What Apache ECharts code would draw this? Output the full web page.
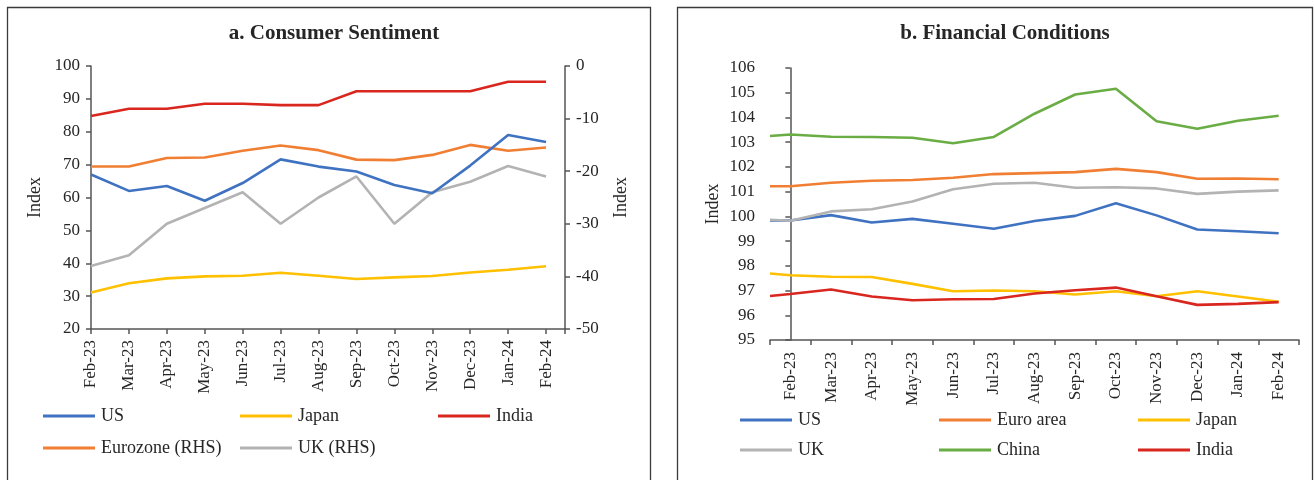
<!DOCTYPE html>
<html>
<head>
<meta charset="utf-8">
<title>Consumer Sentiment and Financial Conditions</title>
<script src="https://cdn.jsdelivr.net/npm/echarts@6/dist/echarts.min.js"></script>
<style>
  html, body { margin: 0; padding: 0; background: #ffffff; }
  #chart { width: 1315px; height: 480px; }
</style>
</head>
<body>
<div id="chart"></div>
<script>
// ---- Panel a: Consumer Sentiment ----
const monthsA = ['Feb-23','Mar-23','Apr-23','May-23','Jun-23','Jul-23','Aug-23','Sep-23','Oct-23','Nov-23','Dec-23','Jan-24','Feb-24'];
const sentUS    = [67.0, 62.0, 63.5, 59.0, 64.4, 71.6, 69.4, 67.9, 63.8, 61.3, 69.7, 79.0, 76.9];
const sentJapan = [31.1, 33.9, 35.4, 36.0, 36.2, 37.1, 36.2, 35.2, 35.7, 36.1, 37.2, 38.0, 39.1];
const sentIndia = [84.8, 87.0, 87.0, 88.5, 88.5, 88.1, 88.1, 92.3, 92.3, 92.3, 92.3, 95.2, 95.2];
const sentEuro  = [-19.1, -19.1, -17.5, -17.4, -16.1, -15.1, -16.0, -17.8, -17.9, -16.9, -15.0, -16.1, -15.5];
const sentUK    = [-38, -36, -30, -27, -24, -30, -25, -21, -30, -24, -22, -19, -21];

// ---- Panel b: Financial Conditions ----
// first value of each series is the opening reading drawn at the axis edge,
// followed by one reading per month
const monthsB = ['Feb-23','Mar-23','Apr-23','May-23','Jun-23','Jul-23','Aug-23','Sep-23','Oct-23','Nov-23','Dec-23','Jan-24','Feb-24'];
const fcUS    = [99.83, 99.83, 100.05, 99.75, 99.90, 99.70, 99.50, 99.81, 100.02, 100.53, 100.04, 99.47, 99.40, 99.32];
const fcEuro  = [101.22, 101.22, 101.36, 101.44, 101.47, 101.56, 101.71, 101.75, 101.79, 101.92, 101.79, 101.52, 101.53, 101.50];
const fcJapan = [97.69, 97.62, 97.56, 97.55, 97.27, 96.97, 97.00, 96.97, 96.84, 96.97, 96.77, 96.97, 96.76, 96.55];
const fcUK    = [99.86, 99.82, 100.20, 100.29, 100.60, 101.10, 101.32, 101.36, 101.16, 101.18, 101.13, 100.91, 101.00, 101.05];
const fcChina = [103.25, 103.31, 103.22, 103.21, 103.18, 102.96, 103.21, 104.15, 104.93, 105.16, 103.85, 103.54, 103.87, 104.07];
const fcIndia = [96.78, 96.86, 97.04, 96.76, 96.61, 96.65, 96.66, 96.88, 97.01, 97.12, 96.77, 96.42, 96.46, 96.53];

const COLORS = {
  blue: '#3F72C1', orange: '#F07F33', yellow: '#FFC000',
  red: '#D9261F', gray: '#B3B3B3', green: '#6AAD45'
};
const AXIS = '#555555';
const TEXT = '#262626';
const SERIF = '"Liberation Serif", "DejaVu Serif", serif';

const chart = echarts.init(document.getElementById('chart'), null, { renderer: 'canvas' });

function tickLabel(extra) {
  return Object.assign({ color: TEXT, fontFamily: SERIF, fontSize: 17 }, extra || {});
}

function yAxisBase(extra) {
  return Object.assign({
    type: 'value',
    axisLine: { show: true, lineStyle: { color: AXIS, width: 1.5 } },
    axisTick: { show: true, inside: false, length: 5, lineStyle: { color: AXIS, width: 1.5 } },
    splitLine: { show: false },
    nameLocation: 'middle',
    nameTextStyle: { color: TEXT, fontFamily: SERIF, fontSize: 18 }
  }, extra);
}

function lineSeries(name, data, color, extra) {
  return Object.assign({
    name: name,
    type: 'line',
    data: data,
    symbol: 'none',
    smooth: false,
    lineStyle: { color: color, width: 2.6 },
    itemStyle: { color: color },
    z: 3
  }, extra);
}

function legendAt(name, left, top) {
  return {
    data: [name],
    left: left, top: top,
    icon: 'rect',
    itemWidth: 52, itemHeight: 3, itemGap: 0,
    padding: 0,
    textStyle: { color: TEXT, fontFamily: SERIF, fontSize: 18, padding: [0, 0, 0, 1] },
    selectedMode: false
  };
}

// x positions on panel b: opening reading at the left edge, then band centres
const xsB = fcUS.map((_, i) => (i === 0 ? -0.5 : i - 1));
const pairB = arr => arr.map((v, i) => [xsB[i], v]);
const pairA = arr => arr.map((v, i) => [i, v]);

const option = {
  animation: false,
  backgroundColor: '#ffffff',
  title: [
    { text: 'a. Consumer Sentiment', left: 329, top: 18, textAlign: 'center',
      textStyle: { color: TEXT, fontFamily: SERIF, fontSize: 21, fontWeight: 'bold' } },
    { text: 'b. Financial Conditions', left: 1000, top: 18, textAlign: 'center',
      textStyle: { color: TEXT, fontFamily: SERIF, fontSize: 21, fontWeight: 'bold' } }
  ],
  graphic: [
    { type: 'rect', shape: { x: 7.5, y: 7.5, width: 643, height: 490 },
      style: { fill: 'none', stroke: '#3a3a3a', lineWidth: 1.3 }, silent: true, z: 0 },
    { type: 'rect', shape: { x: 677.5, y: 7.5, width: 635, height: 490 },
      style: { fill: 'none', stroke: '#3a3a3a', lineWidth: 1.3 }, silent: true, z: 0 }
  ],
  grid: [
    { left: 91, top: 66, width: 474, height: 263 },
    { left: 770, top: 68, width: 529, height: 272 }
  ],
  xAxis: [
    {
      gridIndex: 0, type: 'value', min: 0, max: 12.5, interval: 1,
      axisLine: { show: true, onZero: false, lineStyle: { color: AXIS, width: 1.5 } },
      axisTick: { show: true, length: 5, lineStyle: { color: AXIS, width: 1.5 } },
      splitLine: { show: false },
      axisLabel: tickLabel({
        rotate: 90, margin: 11, showMaxLabel: true,
        formatter: v => (Number.isInteger(v) && monthsA[v]) ? monthsA[v] : ''
      })
    },
    {
      gridIndex: 1, type: 'category', data: monthsB, boundaryGap: true,
      axisLine: { show: true, onZero: false, lineStyle: { color: AXIS, width: 1.5 } },
      axisTick: { show: true, length: 5, alignWithLabel: false, lineStyle: { color: AXIS, width: 1.5 } },
      axisLabel: tickLabel({ rotate: 90, margin: 12, interval: 0 })
    },
    {
      gridIndex: 1, type: 'value', min: -0.5, max: 12.5, show: false
    }
  ],
  yAxis: [
    yAxisBase({ gridIndex: 0, position: 'left', min: 20, max: 100, interval: 10,
      name: 'Index', nameGap: 47, axisLabel: tickLabel({ margin: 11 }) }),
    yAxisBase({ gridIndex: 0, position: 'right', min: -50, max: 0, interval: 10,
      name: 'Index', nameGap: 47, axisLabel: tickLabel({ margin: 11 }) }),
    yAxisBase({ gridIndex: 1, position: 'left', min: 95, max: 106, interval: 1,
      name: 'Index', nameGap: 48, axisLabel: tickLabel({ margin: 15 }) })
  ],
  legend: [
    legendAt('US', 43, 407),
    legendAt('Japan', 240, 407),
    legendAt('India', 438, 407),
    legendAt('Eurozone (RHS)', 43, 439),
    legendAt('UK (RHS)', 240, 439),
    legendAt('US ', 740, 411),
    legendAt('Euro area', 939, 411),
    legendAt('Japan ', 1138, 411),
    legendAt('UK', 740, 441),
    legendAt('China', 939, 441),
    legendAt('India ', 1138, 441)
  ],
  series: [
    lineSeries('UK (RHS)', pairA(sentUK), COLORS.gray, { xAxisIndex: 0, yAxisIndex: 1 }),
    lineSeries('Eurozone (RHS)', pairA(sentEuro), COLORS.orange, { xAxisIndex: 0, yAxisIndex: 1 }),
    lineSeries('Japan', pairA(sentJapan), COLORS.yellow, { xAxisIndex: 0, yAxisIndex: 0 }),
    lineSeries('US', pairA(sentUS), COLORS.blue, { xAxisIndex: 0, yAxisIndex: 0 }),
    lineSeries('India', pairA(sentIndia), COLORS.red, { xAxisIndex: 0, yAxisIndex: 0 }),

    lineSeries('US ', pairB(fcUS), COLORS.blue, { xAxisIndex: 2, yAxisIndex: 2 }),
    lineSeries('Euro area', pairB(fcEuro), COLORS.orange, { xAxisIndex: 2, yAxisIndex: 2 }),
    lineSeries('Japan ', pairB(fcJapan), COLORS.yellow, { xAxisIndex: 2, yAxisIndex: 2 }),
    lineSeries('UK', pairB(fcUK), COLORS.gray, { xAxisIndex: 2, yAxisIndex: 2 }),
    lineSeries('China', pairB(fcChina), COLORS.green, { xAxisIndex: 2, yAxisIndex: 2 }),
    lineSeries('India ', pairB(fcIndia), COLORS.red, { xAxisIndex: 2, yAxisIndex: 2 })
  ]
};

chart.setOption(option);
</script>
</body>
</html>
